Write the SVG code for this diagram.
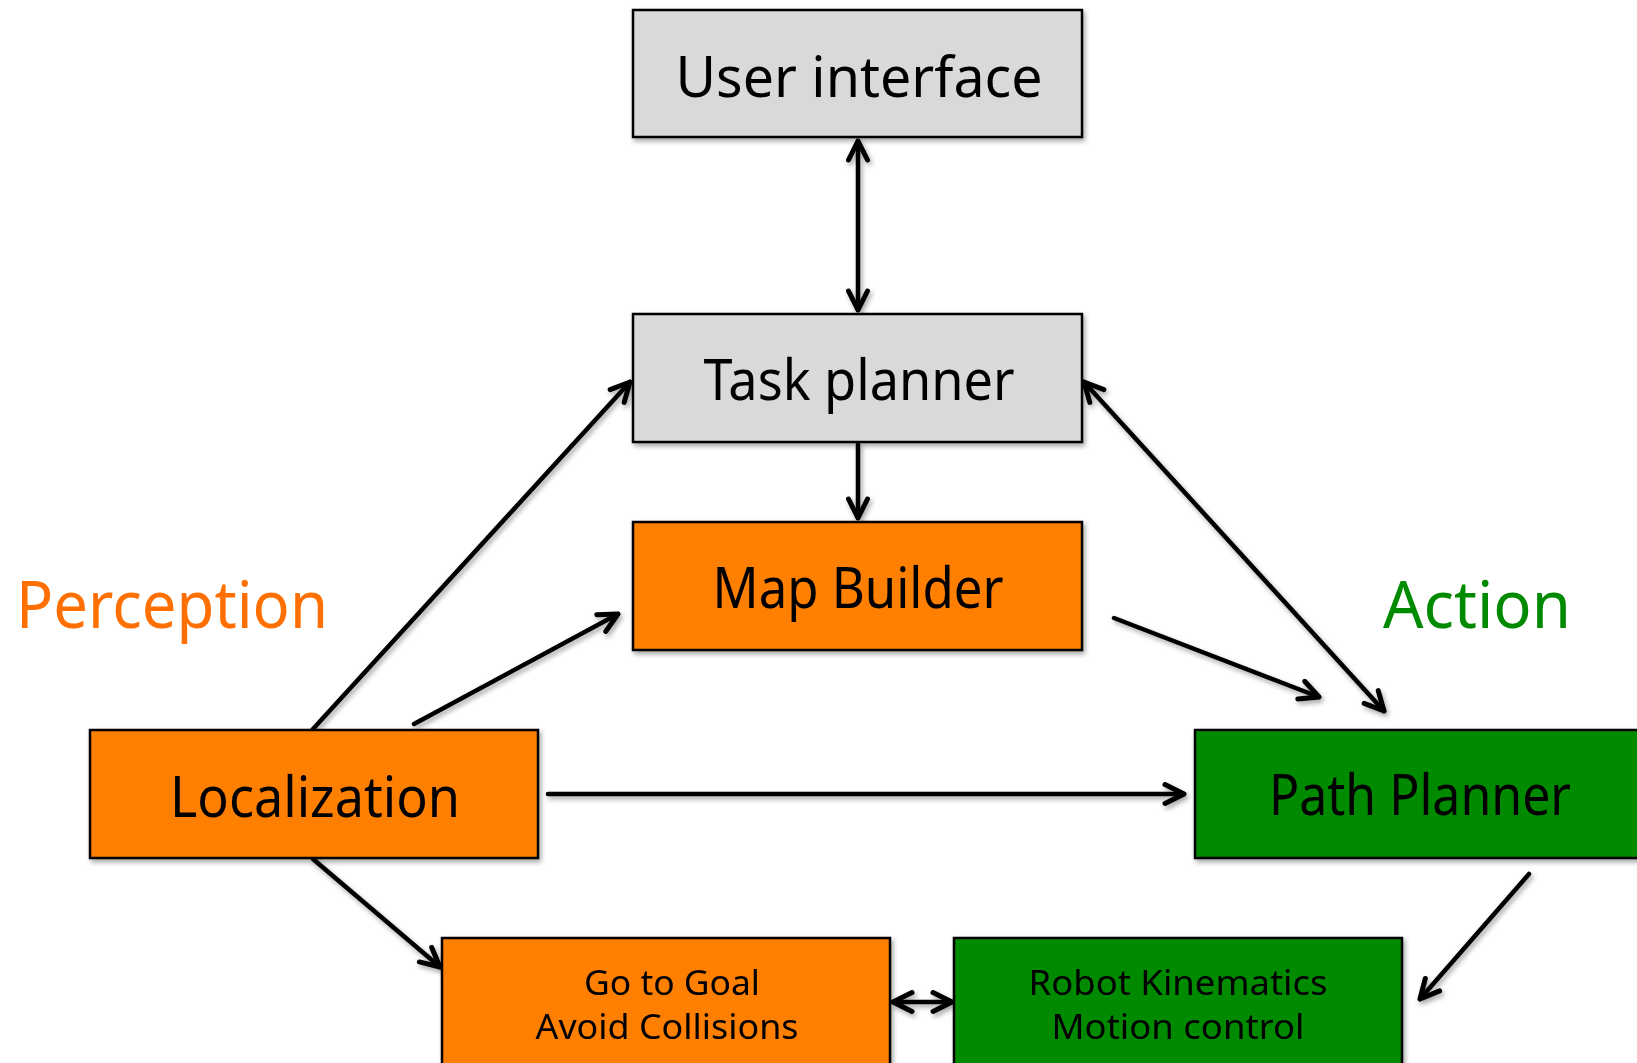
<svg xmlns="http://www.w3.org/2000/svg" width="1637" height="1063" viewBox="0 0 1637 1063">
  <style>
    .box { stroke: #000; stroke-width: 2.5; }
    .gray { fill: #D9D9D9; }
    .orange { fill: #FF7F00; }
    .green { fill: #008A00; }
    .lbl { font-family: "Comic Sans MS", "Noto Sans", "DejaVu Sans", sans-serif; fill: #000; text-anchor: middle; }
    .big { font-size: 56px; }
    .small { font-size: 35px; }
    .side { font-family: "Comic Sans MS", "Noto Sans", "DejaVu Sans", sans-serif; font-size: 66px; }
    .link { stroke: #000; stroke-width: 4.5; fill: none; stroke-linecap: round; marker-end: url(#head); }
    .both { marker-start: url(#head); }
  </style>
  <defs>
    <filter id="shadow" x="-10%" y="-10%" width="120%" height="130%">
      <feDropShadow dx="2" dy="3" stdDeviation="2.5" flood-color="#000" flood-opacity="0.35"/>
    </filter>
    <marker id="head" markerUnits="userSpaceOnUse" viewBox="-24 -14 28 28" refX="0" refY="0" markerWidth="28" markerHeight="28" orient="auto-start-reverse" overflow="visible">
      <path d="M -19 -9.5 L 0 0 L -19 9.5" fill="none" stroke="#000" stroke-width="5" stroke-linecap="round" stroke-linejoin="round"/>
    </marker>
  </defs>

  <rect width="1637" height="1063" fill="#fff"/>

  <!-- connectors -->
  <g id="connectors" filter="url(#shadow)">
    <line class="link both" x1="858" y1="141" x2="858" y2="310"/>
    <line class="link" x1="858" y1="444" x2="858" y2="518"/>
    <line class="link" x1="313" y1="729" x2="630" y2="382"/>
    <line class="link" x1="414" y1="724" x2="618" y2="614"/>
    <line class="link" x1="1114" y1="618" x2="1319" y2="697"/>
    <line class="link both" x1="1084" y1="382" x2="1384" y2="711"/>
    <line class="link" x1="548" y1="794" x2="1184" y2="794"/>
    <line class="link" x1="313" y1="859" x2="440" y2="967"/>
    <line class="link both" x1="893" y1="1002" x2="952" y2="1002"/>
    <line class="link" x1="1529" y1="874" x2="1420" y2="999"/>
  </g>

  <!-- nodes -->
  <g id="user-interface" filter="url(#shadow)">
    <rect class="box gray" x="633" y="10" width="449" height="127"/>
    <text class="lbl big" x="859" y="97" textLength="367" lengthAdjust="spacingAndGlyphs">User interface</text>
  </g>
  <g id="task-planner" filter="url(#shadow)">
    <rect class="box gray" x="633" y="314" width="449" height="128"/>
    <text class="lbl big" x="859" y="400" textLength="311" lengthAdjust="spacingAndGlyphs">Task planner</text>
  </g>
  <g id="map-builder" filter="url(#shadow)">
    <rect class="box orange" x="633" y="522" width="449" height="128"/>
    <text class="lbl big" x="858" y="608" textLength="291" lengthAdjust="spacingAndGlyphs">Map Builder</text>
  </g>
  <g id="localization" filter="url(#shadow)">
    <rect class="box orange" x="90" y="730" width="448" height="128"/>
    <text class="lbl big" x="315" y="817" textLength="290" lengthAdjust="spacingAndGlyphs">Localization</text>
  </g>
  <g id="path-planner" filter="url(#shadow)">
    <rect class="box green" x="1195" y="730" width="449" height="128"/>
    <text class="lbl big" x="1420" y="815" textLength="302" lengthAdjust="spacingAndGlyphs">Path Planner</text>
  </g>
  <g id="go-to-goal" filter="url(#shadow)">
    <rect class="box orange" x="442" y="938" width="448" height="140"/>
    <text class="lbl small" x="672" y="995" textLength="176" lengthAdjust="spacingAndGlyphs">Go to Goal</text>
    <text class="lbl small" x="667" y="1039" textLength="263" lengthAdjust="spacingAndGlyphs">Avoid Collisions</text>
  </g>
  <g id="robot-kinematics" filter="url(#shadow)">
    <rect class="box green" x="954" y="938" width="448" height="140"/>
    <text class="lbl small" x="1178" y="995" textLength="299" lengthAdjust="spacingAndGlyphs">Robot Kinematics</text>
    <text class="lbl small" x="1178" y="1039" textLength="253" lengthAdjust="spacingAndGlyphs">Motion control</text>
  </g>

  <!-- side captions -->
  <g id="captions">
    <text class="side" x="16" y="628" fill="#FF7000" textLength="312" lengthAdjust="spacingAndGlyphs">Perception</text>
    <text class="side" x="1383" y="628" fill="#008A00" textLength="188" lengthAdjust="spacingAndGlyphs">Action</text>
  </g>
</svg>
